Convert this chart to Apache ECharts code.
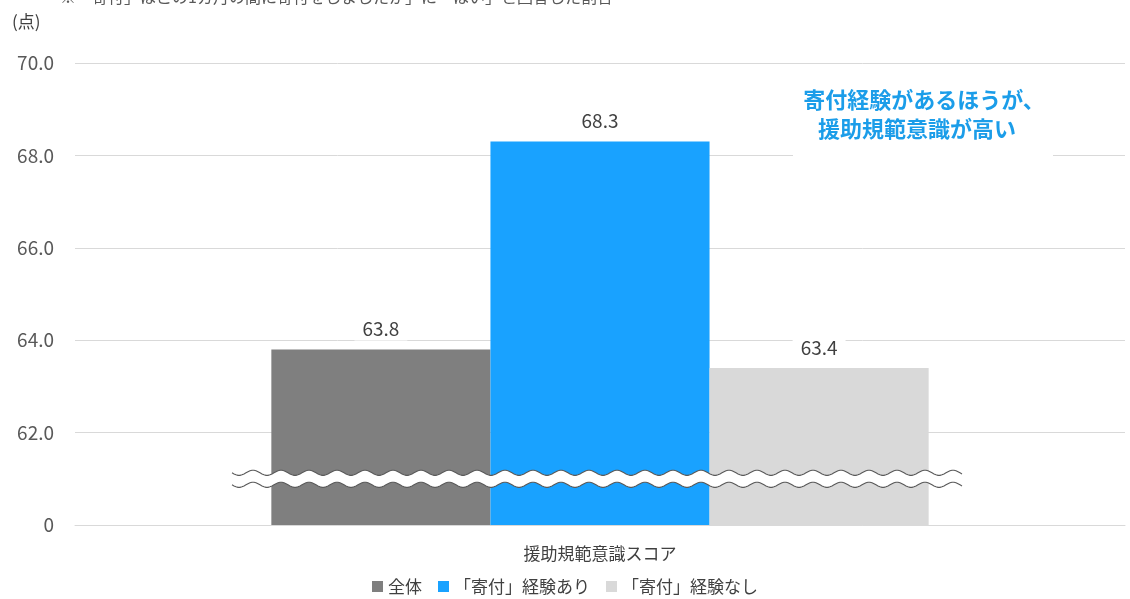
<!DOCTYPE html>
<html><head><meta charset="utf-8">
<script src="https://cdn.jsdelivr.net/npm/echarts@6/dist/echarts.min.js"></script>
<style>html,body{margin:0;padding:0;background:#fff;overflow:hidden}#c{width:1130px;height:599px}</style>
</head><body><div id="c"></div>
<script>
const categories = ['援助規範意識スコア'];
const seriesNames = ['全体', '「寄付」経験あり', '「寄付」経験なし'];
const values = [63.8, 68.3, 63.4];
const colors = ['#7f7f7f', '#19a2ff', '#d9d9d9'];
const yMin = 60, yMax = 70, yStep = 2;
const breakValue = 61.0;
const noteText = '※「寄付」はこの1カ月の間に寄付をしましたか」に「はい」と回答した割合';
const unitText = '(点)';
const calloutLines = ['寄付経験があるほうが、', '援助規範意識が高い'];

const FONT = '"Noto Sans CJK JP", "Noto Sans", sans-serif';
const chart = echarts.init(document.getElementById('c'));

const series = seriesNames.map((n, i) => ({
  name: n,
  type: 'bar',
  data: [values[i]],
  itemStyle: { color: colors[i] },
  barGap: '0%',
  barCategoryGap: '37.4%',
  label: {
    show: true,
    position: 'top',
    distance: 9,
    formatter: p => p.value.toFixed(1),
    color: '#404040',
    fontSize: 19,
    fontFamily: FONT,
    backgroundColor: '#fff',
    padding: [2, 8]
  },
  z: 2
}));

chart.setOption({
  animation: false,
  backgroundColor: '#fff',
  grid: { left: 75, right: 5, top: 63, bottom: 74, containLabel: false },
  xAxis: {
    type: 'category',
    data: categories,
    axisLine: { show: true, lineStyle: { color: '#d9d9d9' } },
    axisTick: { show: false },
    axisLabel: { color: '#404040', fontSize: 17, fontFamily: FONT, margin: 20 }
  },
  yAxis: {
    type: 'value',
    min: yMin, max: yMax, interval: yStep,
    axisLine: { show: false },
    axisTick: { show: false },
    splitLine: { lineStyle: { color: '#d9d9d9', width: 1 } },
    axisLabel: {
      color: '#595959', fontSize: 19, fontFamily: FONT, margin: 21,
      formatter: v => (v === yMin ? '0' : v.toFixed(1))
    }
  },
  legend: {
    data: seriesNames,
    bottom: -1,
    left: 'center',
    itemWidth: 11, itemHeight: 11, itemGap: 16,
    icon: 'rect',
    textStyle: { color: '#404040', fontSize: 17, fontFamily: FONT }
  },
  series: series
});

// decorations computed from scales
const cx = chart.convertToPixel({ xAxisIndex: 0 }, categories[0]);
const yB = chart.convertToPixel({ yAxisIndex: 0 }, breakValue);
const x0 = cx - 368, x1 = cx + 362;
const period = 28, amp = 2.6;
function wave(yc) {
  const pts = [];
  for (let x = x0; x <= x1; x += 2) {
    pts.push([x, yc + amp * Math.sin((x - x0) / period * 2 * Math.PI)]);
  }
  return pts;
}
const up = wave(yB - 6), lo = wave(yB + 6);
const poly = up.concat(lo.slice().reverse());

chart.setOption({
  graphic: [
    { type: 'polygon', shape: { points: poly }, style: { fill: '#fff' }, z: 10 },
    { type: 'polyline', shape: { points: up }, style: { stroke: '#5a5a5a', lineWidth: 1.1, fill: null }, z: 11 },
    { type: 'polyline', shape: { points: lo }, style: { stroke: '#5a5a5a', lineWidth: 1.1, fill: null }, z: 11 },
    { type: 'text', left: 60, top: -11, style: { text: noteText, font: '16px ' + FONT, fill: '#595959' }, z: 5 },
    { type: 'text', left: 12, top: 13, style: { text: unitText, font: '17px ' + FONT, fill: '#404040' }, z: 5 },
    { type: 'rect', shape: { x: 793, y: 84, width: 260, height: 75 }, style: { fill: '#fff' }, z: 5 },
    { type: 'text', x: 924, y: 100, style: { text: calloutLines[0], font: 'bold 22px ' + FONT, fill: '#1b9de9', align: 'center', verticalAlign: 'middle' }, z: 6 },
    { type: 'text', x: 917, y: 129, style: { text: calloutLines[1], font: 'bold 22px ' + FONT, fill: '#1b9de9', align: 'center', verticalAlign: 'middle' }, z: 6 }
  ]
});
</script>
</body></html>
